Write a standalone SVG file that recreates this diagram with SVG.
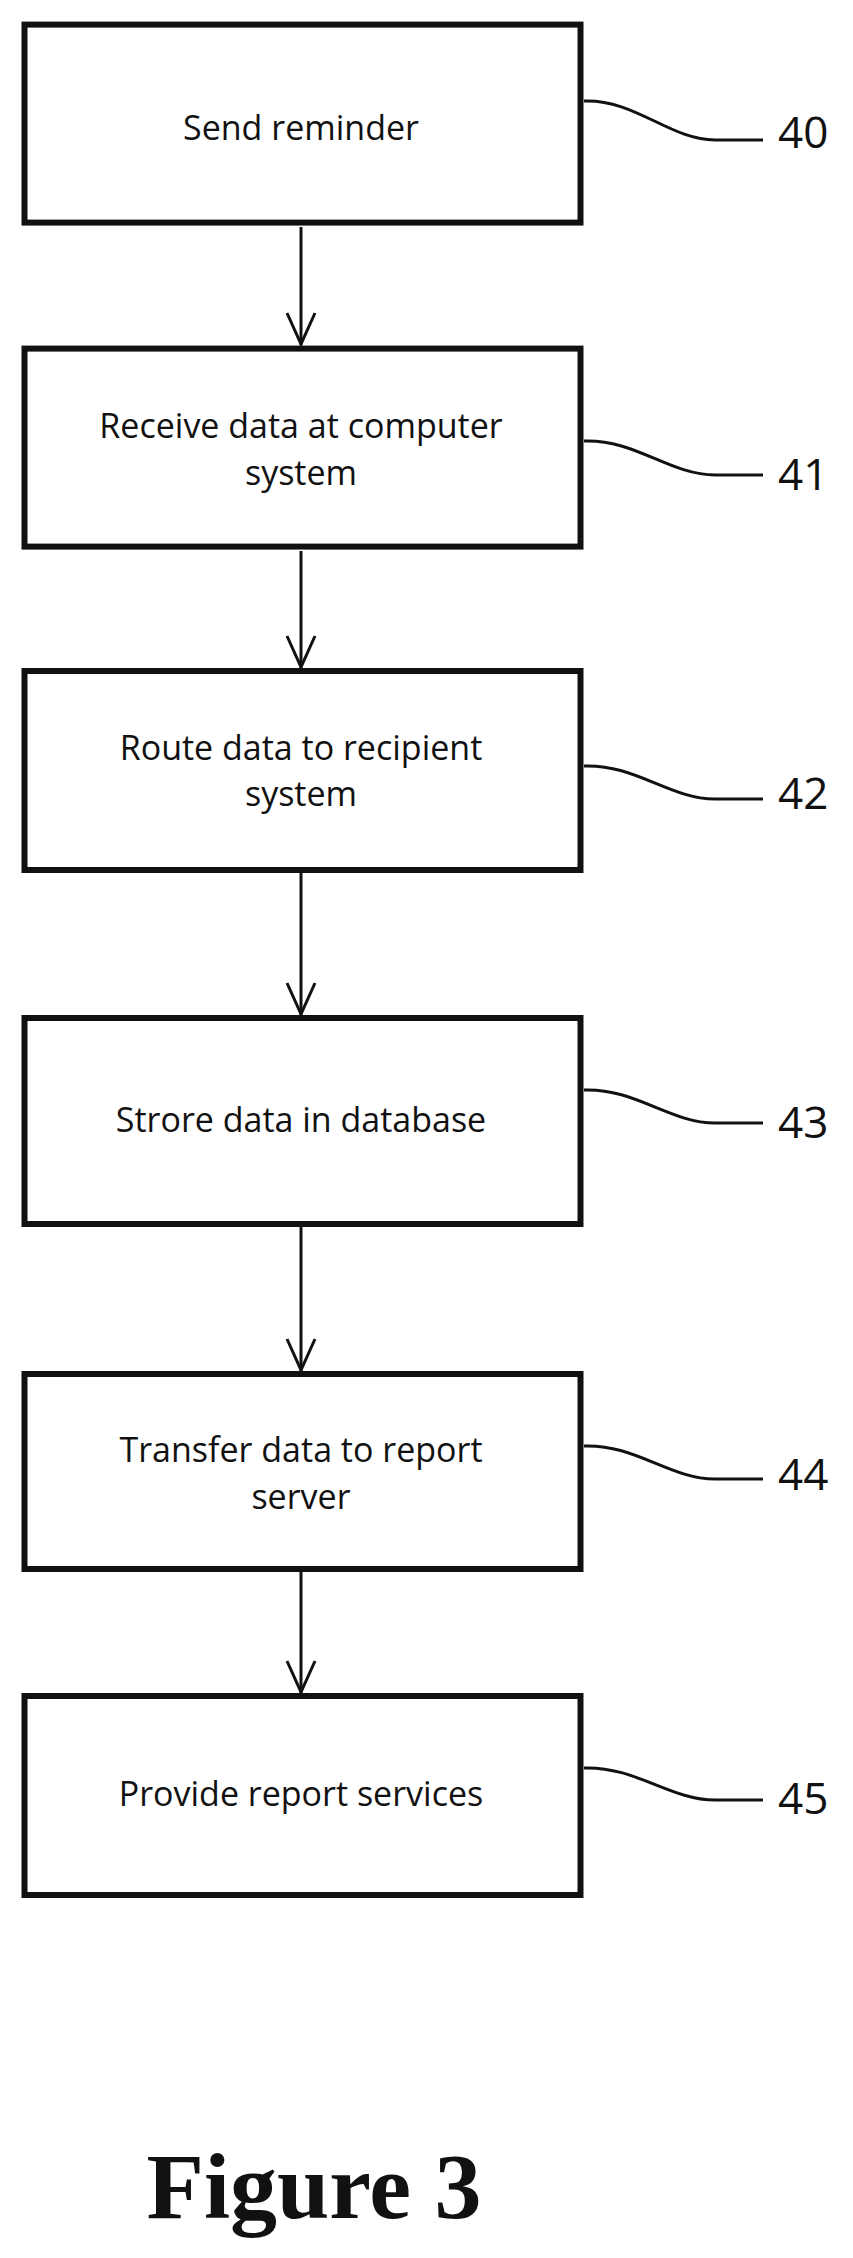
<svg xmlns="http://www.w3.org/2000/svg" width="853" height="2258" viewBox="0 0 853 2258">
<defs>
<style>
.box{fill:#fff;stroke:#111;stroke-width:6}
.t{font-family:"Open Sans","DejaVu Sans",sans-serif;font-size:34px;fill:#111;text-anchor:middle}
.n{font-family:"Open Sans","DejaVu Sans",sans-serif;font-size:44px;fill:#111}
.c{fill:none;stroke:#111;stroke-width:3}
</style>
</defs>
<rect width="853" height="2258" fill="#fff"/>
<g id="connectors">
<line class="c" x1="301" y1="227" x2="301" y2="345"/>
<path class="c" d="M287,313 L301,344 L315,313"/>
<line class="c" x1="301" y1="551" x2="301" y2="668"/>
<path class="c" d="M287,636 L301,667 L315,636"/>
<line class="c" x1="301" y1="873" x2="301" y2="1015"/>
<path class="c" d="M287,983 L301,1014 L315,983"/>
<line class="c" x1="301" y1="1227" x2="301" y2="1371"/>
<path class="c" d="M287,1339 L301,1370 L315,1339"/>
<line class="c" x1="301" y1="1572" x2="301" y2="1693"/>
<path class="c" d="M287,1661 L301,1692 L315,1661"/>
</g>
<g id="n40"><rect class="box" x="24.5" y="24.6" width="556" height="198"/><text class="t" x="301" y="140">Send reminder</text>
<path class="c" d="M584,101 C635,99 670,140 715,140 L763,140"/><text class="n" x="778" y="148">40</text></g>
<g id="n41"><rect class="box" x="24.5" y="348.6" width="556" height="198"/><text class="t" x="301" y="438">Receive data  at computer</text><text class="t" x="301" y="485">system</text>
<path class="c" d="M584,441 C635,439 670,475 715,475 L763,475"/><text class="n" x="778" y="490">41</text></g>
<g id="n42"><rect class="box" x="24.5" y="671" width="556" height="199"/><text class="t" x="301" y="760">Route data to recipient</text><text class="t" x="301" y="806">system</text>
<path class="c" d="M584,766 C635,764 670,799 715,799 L763,799"/><text class="n" x="778" y="809">42</text></g>
<g id="n43"><rect class="box" x="24.5" y="1018" width="556" height="206"/><text class="t" x="301" y="1132">Strore data in database</text>
<path class="c" d="M584,1090 C635,1088 670,1123 715,1123 L763,1123"/><text class="n" x="778" y="1138">43</text></g>
<g id="n44"><rect class="box" x="24.5" y="1374" width="556" height="195"/><text class="t" x="301" y="1462">Transfer data to report</text><text class="t" x="301" y="1509">server</text>
<path class="c" d="M584,1446 C635,1444 670,1479 715,1479 L763,1479"/><text class="n" x="778" y="1490">44</text></g>
<g id="n45"><rect class="box" x="24.5" y="1696" width="556" height="199"/><text class="t" x="301" y="1806">Provide report services</text>
<path class="c" d="M584,1768 C635,1766 670,1800 715,1800 L763,1800"/><text class="n" x="778" y="1814">45</text></g>
<text x="314" y="2218" text-anchor="middle" font-family="'Liberation Serif',serif" font-weight="bold" font-size="94" fill="#111">Figure 3</text>
</svg>
